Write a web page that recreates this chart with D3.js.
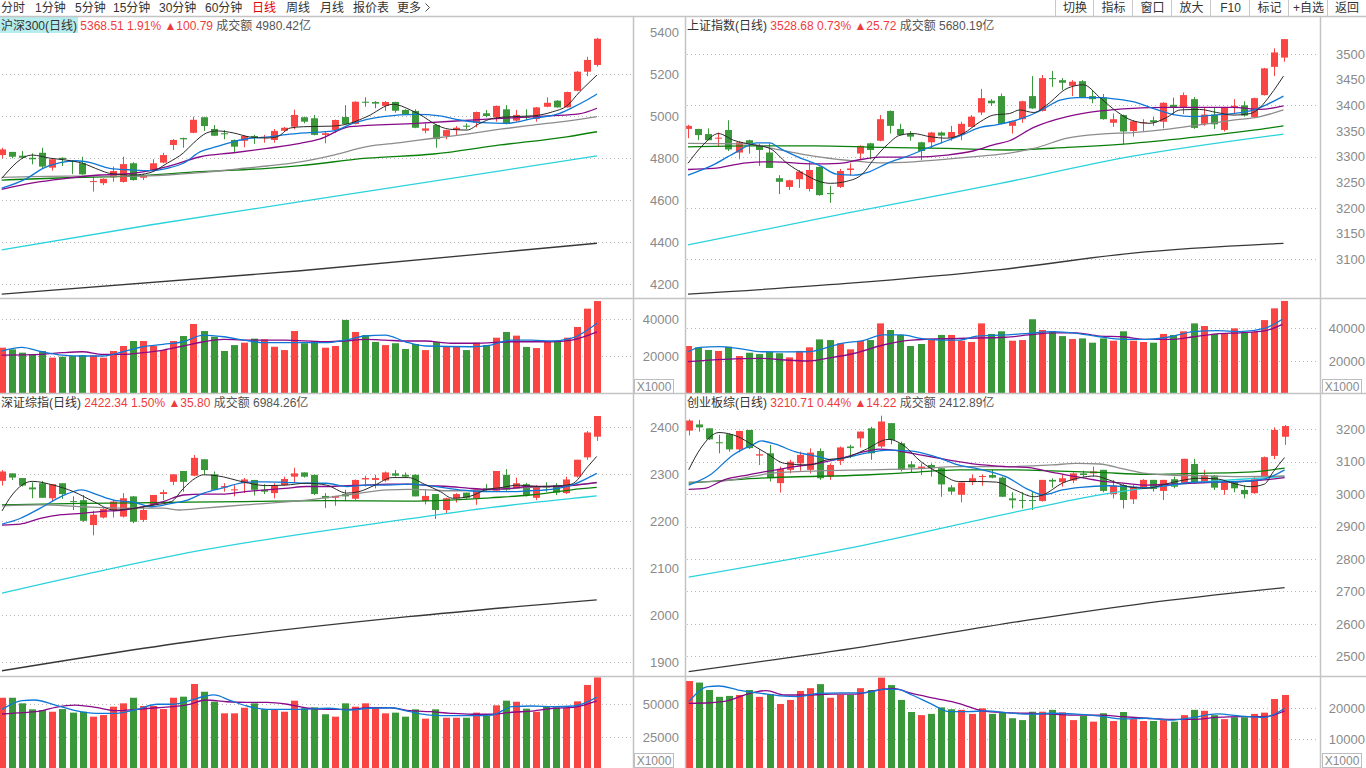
<!DOCTYPE html>
<html>
<head>
<meta charset="utf-8">
<title>日线 - 四窗口</title>
<script src="https://cdn.jsdelivr.net/npm/d3@7"></script>
<style>
body { margin: 0; background: #fff; }
svg { display: block; }
</style>
</head>
<body>
<script>
// ---------- 沪深300 ----------
var hs300_open = [4814,4829,4811,4801,4825,4754,4801,4787,4775,4687,4680,4708,4686,4775,4706,4743,4778,4862,4895,4920,4994,4938,4918,4886,4882,4905,4897,4886,4930,4949,4994,4989,4910,4933,4995,4962,5068,5067,5048,5067,5029,5024,4930,4957,4905,4933,4954,4968,5013,4994,5032,4978,4997,4986,5044,5073,5041,5120,5211,5243]
var hs300_close = [4841,4806,4801,4794,4759,4794,4794,4782,4722,4690,4701,4738,4771,4695,4719,4775,4814,4886,4889,4982,4952,4906,4913,4854,4905,4899,4901,4929,4944,5005,4973,4910,4918,4981,4962,5068,5063,5059,5067,5025,5008,4944,4941,4890,4933,4944,4949,5019,5000,5048,4962,5005,4992,5041,5063,5041,5114,5211,5267,5368]
var hs300_high = [4849,4829,4833,4822,4849,4796,4803,4790,4806,4711,4703,4759,4806,4780,4724,4794,4825,4890,4897,4997,4996,4957,4933,4888,4907,4910,4910,4938,4948,5030,4997,5005,4925,4983,5052,5070,5089,5071,5071,5068,5032,5032,4965,4960,4935,4952,4965,5021,5029,5050,5052,5029,5032,5043,5089,5076,5116,5214,5282,5372]
var hs300_low = [4799,4799,4799,4770,4749,4740,4762,4724,4720,4640,4671,4687,4683,4692,4695,4740,4775,4838,4849,4918,4929,4904,4889,4825,4851,4867,4873,4873,4925,4937,4965,4908,4870,4920,4960,4960,5044,5037,5024,5016,5005,4942,4918,4849,4889,4905,4937,4946,4994,4973,4960,4973,4981,4973,5042,5040,5040,5118,5190,5235]
var hs300_vol = [24500,23600,21800,20900,22700,19100,19600,20000,20400,20400,19100,22700,25400,28100,28100,25400,23200,28100,30800,37300,33500,30400,22700,25900,27200,29400,29000,25000,23200,33500,26900,28100,24500,25400,39500,33000,31300,27600,25900,26900,23800,26500,23200,27600,25000,25000,23200,27200,25900,29900,33000,31000,24900,24300,27700,28100,29900,35700,45600,49700]
var hs300_ma5 = [[0,4703],[3,4814],[4.8,4799],[6.4,4790],[8,4775],[9.7,4743],[10.7,4727],[13,4719],[14.7,4730],[16.4,4775],[18,4824],[19,4871],[20.3,4919],[21.3,4929],[23,4919],[24.6,4900],[26.3,4895],[27.3,4901],[28.6,4943],[29.9,4949],[32.8,4952],[34.5,4965],[36.2,4997],[38.8,5056],[40.5,5029],[41.8,4997],[42.8,4965],[44.4,4937],[46.1,4933],[47.4,4965],[48.7,4989],[50.7,4997],[52.7,5001],[54.6,5020],[56,5048],[57.3,5116],[58.3,5163],[59,5195]]
var hs300_ma10 = [[0,4656],[2.5,4703],[4.1,4751],[5.8,4778],[7.4,4787],[8.8,4778],[10.7,4751],[13,4743],[14.7,4740],[16.4,4751],[18,4775],[19.7,4830],[21.3,4854],[23,4878],[24.6,4894],[26.3,4899],[27.9,4910],[29.6,4918],[32.9,4929],[34.8,4965],[37.8,4997],[41.1,5008],[43.4,5001],[45.4,4981],[47.7,4968],[50,4965],[52.7,4989],[55.3,5013],[56.6,5041],[58,5076],[59,5105]]
var hs300_ma20 = [[0,4651],[3.1,4682],[6.4,4703],[9.7,4719],[13,4727],[16.4,4759],[19.7,4806],[23,4825],[26.3,4846],[29.6,4870],[31.5,4890],[34.5,4949],[41.1,4965],[47.7,4984],[54.3,5001],[57.2,5010],[59,5037]]
var hs300_ma30 = [[0,4708],[6.4,4714],[13,4714],[16.4,4719],[19.7,4730],[23,4746],[26.3,4762],[29.6,4782],[32.9,4814],[36.2,4854],[39.5,4873],[42.8,4894],[46.1,4914],[49.4,4937],[52.7,4957],[56,4976],[59,4997]]
var hs300_ma60 = [[0,4695],[6.4,4706],[13,4714],[19.7,4735],[26.3,4751],[29.6,4764],[36.2,4799],[42.8,4819],[49.4,4862],[56,4901],[59,4925]]
var hs300_ma120 = [[0,4362],[14.7,4481],[29.6,4592],[59,4810]]
var hs300_ma250 = [[0,4152],[29.6,4263],[59,4394]]
var hs300_vma5 = [[0,22700],[2,24700],[4,22300],[6,20500],[8,20000],[10,20000],[12,22300],[14,25000],[16,26300],[18,27700],[20,31300],[22,30400],[24,28600],[26,27200],[30,27200],[32,27200],[34,28600],[36,30800],[38,31300],[40,27700],[42,25400],[46.5,25000],[48.5,25900],[50.5,28600],[52.5,28600],[54.5,28100],[56.5,29600],[59,37700]]
var hs300_vma10 = [[0,20500],[4,20900],[6,21800],[8,22300],[10,20900],[12,20900],[14,21800],[16,23200],[18,25400],[20,27700],[22,29000],[24,28600],[28,28600],[32,27700],[34,28100],[36,29000],[38,28600],[40,28100],[42,28100],[44.5,26900],[46.5,26900],[48.5,27200],[50.5,27700],[54.5,27700],[56.5,28600],[59,33000]]
var hs300_ticks = [4200,4400,4600,4800,5000,5200,5400]
var hs300_grid = [4200,4400,4600,4800,5000,5200]
var hs300_vticks = [20000,40000]

// ---------- 上证指数 ----------
var sh_open = [3354,3354,3344,3335,3352,3308,3332,3321,3308,3258,3241,3256,3237,3280,3229,3241,3274,3306,3326,3331,3389,3354,3345,3328,3328,3347,3337,3343,3358,3386,3409,3418,3360,3373,3418,3389,3453,3449,3438,3447,3418,3415,3366,3381,3350,3365,3371,3368,3401,3396,3412,3364,3382,3352,3396,3400,3377,3420,3475,3493]
var sh_close = [3360,3342,3332,3337,3314,3328,3326,3313,3278,3251,3254,3271,3274,3225,3227,3272,3277,3321,3313,3373,3360,3342,3339,3311,3347,3341,3348,3364,3378,3414,3404,3364,3369,3408,3394,3453,3451,3444,3446,3416,3412,3373,3373,3349,3369,3367,3367,3405,3396,3420,3356,3382,3363,3396,3399,3380,3414,3472,3503,3529]
var sh_high = [3362,3354,3355,3347,3371,3330,3333,3325,3326,3264,3255,3274,3289,3281,3243,3276,3287,3322,3327,3381,3390,3364,3350,3329,3348,3349,3360,3368,3381,3432,3412,3423,3370,3409,3457,3459,3467,3453,3449,3449,3430,3422,3384,3382,3371,3373,3378,3406,3415,3425,3416,3396,3396,3397,3412,3408,3415,3473,3511,3529]
var sh_low = [3336,3332,3332,3319,3311,3295,3306,3282,3278,3227,3235,3239,3232,3224,3210,3239,3263,3293,3295,3330,3345,3341,3331,3293,3317,3326,3331,3332,3357,3381,3399,3363,3345,3366,3393,3388,3436,3430,3418,3415,3404,3372,3358,3324,3339,3349,3360,3355,3381,3383,3354,3360,3354,3349,3384,3378,3375,3419,3457,3485]
var sh_vol = [29100,28300,26700,26100,28700,23000,25000,24200,25500,24700,22200,26100,28300,33100,32700,30700,27100,32100,32700,42800,38800,35800,29100,30300,33100,35800,35800,32300,31500,42800,36400,38000,32300,32700,45300,38800,38000,35100,33300,33700,31100,33700,32300,38000,32300,31500,31100,36400,35800,38000,42800,41200,36400,36400,39800,37100,37600,44800,51900,56400]
var sh_ma5 = [[0,3287],[1.5,3323],[3,3345],[4.5,3332],[6.5,3323],[8.1,3316],[9.8,3287],[11.4,3267],[13.1,3251],[14.1,3248],[15.7,3252],[17.3,3267],[18.3,3293],[19.7,3323],[21,3342],[22.3,3345],[23.9,3339],[25.6,3336],[27.2,3345],[28.9,3368],[30.2,3381],[31.8,3384],[32.8,3391],[34.2,3386],[35.5,3401],[37.5,3433],[39.1,3440],[40.8,3414],[42.4,3388],[44,3370],[45.7,3365],[47.3,3376],[48.7,3391],[50.6,3392],[52.3,3386],[53.9,3381],[55.6,3384],[56.6,3396],[57.6,3420],[58.9,3457]]
var sh_ma10 = [[0,3264],[2.5,3284],[4.5,3306],[6.8,3327],[8.1,3327],[9.1,3316],[10.8,3300],[13.1,3282],[14.7,3266],[16.4,3264],[18,3271],[19.7,3287],[21.6,3300],[23.6,3316],[25.6,3331],[27.2,3343],[28.9,3357],[30.5,3362],[32.8,3373],[34.8,3389],[36.8,3410],[38.4,3415],[40.8,3415],[42.4,3412],[44,3407],[45.7,3396],[48,3382],[50,3378],[52,3381],[53.9,3384],[55.6,3389],[57.2,3401],[58.9,3418]]
var sh_ma20 = [[0,3275],[2.5,3277],[5.8,3288],[8.4,3290],[12.4,3286],[15,3287],[16.7,3293],[19,3299],[22.3,3299],[25.6,3303],[28.2,3311],[30.2,3323],[31.8,3331],[34.2,3357],[37.5,3378],[40.8,3389],[44,3394],[47.3,3396],[53.9,3396],[56.6,3392],[58.9,3399]]
var sh_ma30 = [[0,3326],[5.8,3325],[9.1,3313],[12.4,3301],[15.7,3293],[19,3288],[22.3,3290],[25.6,3295],[28.9,3301],[31.8,3307],[34.2,3316],[37.5,3336],[40.8,3344],[44,3347],[47.3,3353],[50.6,3362],[53.9,3371],[56.6,3378],[58.9,3391]]
var sh_ma60 = [[0,3319],[5.8,3321],[12.4,3321],[19,3318],[25.6,3316],[31.8,3313],[37.5,3318],[44,3326],[50.6,3339],[57.2,3355],[58.9,3360]]
var sh_ma120 = [[0,3128],[15.7,3190],[30.9,3248],[44,3301],[58.9,3344]]
var sh_ma250 = [[0,3032],[15.7,3053],[30.9,3080],[44,3112],[58.9,3131]]
var sh_vma5 = [[0,25600],[1.2,28300],[3.1,28700],[4.9,27700],[7.3,25600],[9.6,25500],[11.9,25600],[15.2,30700],[17.5,32700],[19.3,35800],[21.2,35800],[23,33700],[24.9,32700],[26.8,32700],[28.6,35100],[31.4,35800],[33.7,36800],[36.1,37800],[38.4,36800],[40.7,34700],[43,33100],[45.3,33100],[47.7,34700],[50,37800],[52.3,38400],[54.6,37800],[57,39800],[58.8,45300]]
var sh_vma10 = [[0,19600],[3.6,21000],[7.3,21600],[9.6,20600],[11.9,20000],[13.7,21600],[16.5,24700],[19.3,29700],[22.1,32700],[26.8,33700],[31.4,34400],[33.7,35800],[36.1,37100],[38.4,37100],[40.7,35100],[43,34700],[45.3,33100],[47.7,33100],[50,34700],[52.3,36400],[54.6,37100],[57,38200],[58.8,42200]]
var sh_ticks = [3100,3150,3200,3250,3300,3350,3400,3450,3500]
var sh_grid = [3100,3200,3300,3400,3500]
var sh_vticks = [20000,40000]

// ---------- 深证综指 ----------
var sz_open = [2286,2302,2292,2272,2281,2249,2281,2243,2245,2192,2208,2224,2210,2253,2203,2235,2258,2284,2307,2297,2332,2300,2272,2267,2281,2288,2267,2260,2277,2295,2304,2299,2254,2250,2258,2248,2289,2288,2287,2302,2299,2299,2243,2258,2224,2249,2261,2249,2270,2265,2299,2270,2279,2250,2275,2277,2260,2295,2336,2380]
var sz_close = [2306,2293,2276,2268,2250,2279,2258,2241,2201,2214,2226,2242,2249,2199,2224,2256,2262,2300,2284,2335,2309,2267,2275,2268,2289,2267,2263,2277,2290,2302,2295,2258,2249,2254,2253,2288,2292,2292,2304,2297,2295,2253,2254,2224,2249,2258,2250,2268,2267,2307,2267,2281,2256,2274,2272,2261,2289,2331,2389,2424]
var sz_high = [2309,2302,2292,2283,2286,2279,2281,2253,2256,2222,2228,2245,2260,2254,2231,2256,2267,2300,2307,2341,2332,2306,2281,2277,2292,2288,2279,2281,2295,2314,2304,2299,2260,2254,2267,2289,2297,2299,2306,2309,2304,2300,2267,2258,2250,2260,2261,2270,2279,2307,2311,2293,2282,2277,2283,2281,2295,2331,2392,2424]
var sz_low = [2276,2288,2274,2249,2250,2242,2248,2224,2199,2170,2206,2208,2208,2196,2199,2231,2245,2277,2263,2296,2299,2267,2263,2253,2260,2255,2258,2249,2276,2283,2293,2256,2228,2233,2243,2245,2274,2270,2284,2295,2293,2253,2236,2205,2217,2240,2248,2235,2263,2265,2265,2269,2253,2245,2263,2256,2258,2293,2331,2371]
var sz_vol = [54700,54700,50500,46000,45500,44200,46200,43500,44200,40500,41700,48000,50500,54700,48500,48500,46200,54700,55500,65000,59200,51700,43000,43000,47200,50500,46200,46000,44200,52500,46800,47500,42300,40500,50500,48000,50500,47500,43000,43500,40500,46000,39000,46000,39700,39700,39700,43500,41000,49000,52500,51700,46500,44200,48000,47500,47000,52000,64300,70000]
var sz_ma5 = [[0,2222],[1,2256],[3,2285],[5.1,2277],[7.1,2263],[9.1,2242],[11.1,2224],[13.2,2228],[15.2,2235],[16.8,2242],[18,2270],[19.2,2292],[20,2299],[21.3,2297],[24.1,2283],[26.1,2276],[28.1,2277],[30.2,2281],[32.2,2277],[34.2,2260],[35.4,2263],[37,2277],[38.7,2293],[40.3,2293],[41.9,2279],[43.5,2263],[44.7,2249],[46.4,2253],[48,2267],[49.6,2272],[51.2,2277],[53.2,2274],[54.9,2275],[56.5,2279],[58.1,2316],[59,2338]]
var sz_ma10 = [[0,2194],[1.8,2206],[3.8,2228],[5.9,2253],[7.9,2267],[9.5,2256],[11.1,2245],[13.2,2240],[14.8,2231],[16.8,2238],[18.4,2245],[20,2260],[22.1,2272],[24.1,2283],[26.1,2284],[28.1,2283],[30.2,2281],[32.2,2281],[34.2,2274],[36.2,2277],[38.3,2277],[40.3,2279],[42.3,2276],[44.3,2270],[46.4,2265],[48.4,2263],[50.4,2263],[52.4,2265],[54.5,2268],[56.5,2277],[58.1,2292],[59,2302]]
var sz_ma20 = [[0,2192],[1.8,2194],[3.8,2206],[5.9,2214],[7.9,2217],[9.9,2221],[12,2224],[14,2231],[16,2242],[18,2256],[20,2258],[22.1,2258],[24.1,2263],[26.1,2267],[28.1,2270],[30.2,2274],[32.2,2274],[34.2,2276],[36.2,2277],[38.3,2279],[40.3,2279],[42.3,2276],[44.3,2274],[46.4,2270],[48.4,2268],[50.4,2270],[52.4,2274],[54.5,2274],[56.5,2276],[59,2283]]
var sz_ma30 = [[0,2233],[3.8,2235],[7.9,2231],[12,2228],[16,2228],[17.6,2224],[20,2228],[24.1,2235],[30.2,2245],[34.2,2256],[38.3,2267],[40.3,2268],[42.3,2267],[44.3,2265],[48.4,2267],[52.4,2272],[56.5,2277],[59,2282]]
var sz_ma60 = [[0,2235],[7.9,2238],[16,2240],[24.1,2242],[32.2,2244],[40.3,2243],[44.3,2245],[48.4,2250],[52.4,2256],[56.5,2267],[59,2272]]
var sz_ma120 = [[0,2047],[20,2139],[40.3,2205],[48.4,2229],[59,2254]]
var sz_ma250 = [[0,1882],[20,1948],[40.3,1997],[59,2033]]
var sz_vma5 = [[0,46000],[2,52500],[3.2,53000],[5.3,49200],[7.3,45000],[9.3,43000],[11.3,43000],[13.4,46000],[15.4,49800],[17,49800],[18.6,52500],[20.2,56000],[21,56800],[22.7,52500],[24.3,48500],[26.3,46000],[28.3,46000],[30.4,46200],[32.4,46800],[34.4,45500],[36.4,46800],[38.5,47200],[40.5,44200],[42.5,41700],[44.5,41200],[46.6,41200],[48.6,41700],[50.6,48000],[52.6,48500],[54.7,48000],[56.7,48500],[59,55000]]
var sz_vma10 = [[0,42500],[2,43500],[4,45000],[5.3,47500],[7.3,49200],[9.3,47500],[11.3,45000],[13.4,46000],[15.4,47200],[17,48000],[18.6,49800],[20.2,53000],[22.3,51700],[24.3,51200],[26.3,51200],[28.3,49800],[30.4,46800],[32.4,46000],[34.4,46000],[36.4,47200],[38.5,47200],[40.5,45000],[42.5,44200],[44.5,43000],[46.6,42300],[48.6,42300],[50.6,43800],[52.6,44700],[54.7,46800],[56.7,47500],[59,52300]]
var sz_ticks = [1900,2000,2100,2200,2300,2400]
var sz_grid = [1900,2000,2100,2200,2300,2400]
var sz_vticks = [25000,50000]

// ---------- 创业板综 ----------
var cyb_open = [3196,3215,3203,3160,3185,3138,3198,3119,3126,3034,3075,3095,3075,3133,3054,3102,3147,3172,3203,3147,3219,3157,3092,3080,3090,3080,3021,2998,3037,3054,3059,3051,2987,2982,2982,2979,3044,3037,3042,3064,3064,3075,3000,3028,2984,3020,3044,3010,3046,3034,3093,3037,3057,3013,3039,3013,3003,3056,3118,3177]
var cyb_close = [3227,3206,3169,3157,3138,3195,3142,3123,3049,3078,3100,3121,3128,3049,3090,3144,3142,3193,3126,3224,3167,3075,3082,3085,3080,3030,3008,3036,3049,3056,3051,2992,2981,2980,2980,3044,3039,3049,3064,3059,3070,3010,3026,2982,3023,3044,3016,3044,3023,3109,3034,3059,3020,3039,3018,3000,3046,3114,3198,3210]
var cyb_high = [3231,3229,3203,3183,3188,3195,3198,3139,3152,3085,3106,3131,3141,3141,3095,3147,3152,3193,3208,3242,3219,3162,3102,3095,3095,3080,3028,3036,3061,3061,3075,3054,3006,3006,3006,3044,3049,3061,3067,3072,3085,3075,3044,3031,3028,3046,3044,3044,3054,3109,3109,3075,3059,3044,3041,3028,3056,3116,3206,3213]
var cyb_low = [3181,3193,3167,3126,3131,3129,3139,3090,3039,3005,3064,3072,3064,3044,3044,3090,3111,3144,3106,3142,3154,3070,3068,3059,3054,2992,2998,2975,3028,3026,3049,2992,2956,2956,2951,2977,3020,3023,3034,3054,3054,3006,2987,2956,2970,3016,3008,2982,3018,3031,3031,3034,3013,2998,3006,2987,3001,3054,3108,3152]
var cyb_vol = [28700,28200,25800,23600,23900,24200,25800,23600,24500,21300,22600,25500,26400,27700,23300,24200,24200,26400,25800,29800,27400,22600,18700,17700,18100,20200,19600,19400,18100,19900,18100,18500,16700,16100,18800,18800,19400,18600,16100,17400,15600,18300,15800,18700,16400,15800,15800,16100,15600,17700,19400,19100,17700,16400,17000,17000,18100,18500,22900,24200]
var cyb_ma5 = [[0,3075],[1.2,3142],[3,3190],[4.9,3177],[6.3,3152],[7.7,3126],[9.5,3095],[11.9,3090],[13.7,3106],[15.6,3113],[17.4,3136],[19.8,3169],[21.2,3152],[23,3100],[24.9,3064],[26.7,3039],[28.6,3039],[30.5,3037],[32.3,3013],[34.2,2992],[35.1,2998],[37,3034],[38.8,3051],[40.2,3056],[41.6,3044],[43.5,3023],[45.3,3018],[47.2,3031],[48.6,3041],[50.5,3049],[52.3,3047],[54.2,3031],[55.6,3023],[57,3031],[57.9,3070],[59,3113]]
var cyb_ma10 = [[0,3028],[2.1,3059],[4.4,3121],[6.3,3152],[7.2,3164],[8.6,3154],[10.5,3131],[12.8,3116],[14.2,3106],[16,3116],[17.4,3126],[19.8,3136],[22.1,3133],[24.4,3116],[26.7,3090],[29.1,3075],[31.4,3054],[33.7,3013],[35.1,2998],[37,3013],[38.8,3021],[41.6,3026],[43.5,3023],[45.3,3020],[47.7,3028],[50,3037],[52.3,3037],[54.7,3039],[57,3047],[59,3075]]
var cyb_ma20 = [[0,3015],[1.6,3018],[3.5,3044],[5.8,3059],[8.1,3072],[10.5,3085],[12.8,3095],[15.1,3111],[17.4,3131],[18.8,3139],[20.2,3136],[22.1,3126],[24.4,3113],[26.7,3100],[29.1,3090],[31.4,3085],[33.7,3082],[36,3067],[38.4,3054],[40.7,3041],[43,3034],[45.3,3028],[47.7,3031],[50,3034],[52.3,3037],[54.7,3039],[57,3044],[59,3051]]
var cyb_ma30 = [[0,3037],[3.5,3041],[8.1,3064],[12.8,3072],[17.4,3075],[22.1,3078],[26.7,3085],[31.4,3085],[36,3090],[38.4,3095],[40.7,3093],[43,3078],[45.3,3064],[47.7,3059],[50,3057],[54.7,3054],[59,3056]]
var cyb_ma60 = [[0,3034],[8.1,3051],[17.4,3059],[22.1,3067],[26.7,3075],[31.4,3075],[36,3072],[40.7,3067],[45.3,3061],[50,3064],[54.7,3067],[57,3072],[59,3080]]
var cyb_ma120 = [[0,2744],[17.4,2843],[33.7,2954],[40.7,2998],[47.7,3028],[54.7,3046],[59,3054]]
var cyb_ma250 = [[0,2453],[17.4,2530],[33.7,2612],[45.3,2664],[59,2712]]
var cyb_vma5 = [[0,22000],[1.9,26900],[3,27100],[4.9,25800],[7.2,24700],[9.1,23900],[10.9,23700],[12.8,24700],[15.1,24900],[17.4,24900],[19.3,26000],[20.7,26000],[22.1,24200],[23.9,21500],[25.8,18800],[27.7,18800],[29.5,19100],[31.4,18500],[33.7,18000],[36,18300],[38.4,18000],[40.7,17400],[43,16500],[45.3,16700],[47.7,16100],[50,17000],[52.3,18100],[54.7,17400],[57,17000],[59,19900]]
var cyb_vma10 = [[0,21500],[2.1,21700],[3.9,22400],[5.8,24500],[7.7,25600],[9.5,24200],[11.9,24200],[14.2,24500],[16.5,24500],[18.4,25600],[20.2,26300],[22.1,24700],[24.4,23100],[26.7,21500],[29.1,19100],[31.4,18500],[33.7,18300],[36,18000],[38.4,17700],[40.7,17700],[43,17200],[45.3,16700],[47.7,16300],[50,16300],[52.3,17000],[54.7,17200],[57,17200],[59,19100]]
var cyb_ticks = [2500,2600,2700,2800,2900,3000,3100,3200]
var cyb_grid = [2500,2600,2700,2800,2900,3000,3100,3200]
var cyb_vticks = [10000,20000]

// toolbar labels
var menuLeft = ['分时','1分钟','5分钟','15分钟','30分钟','60分钟','日线','周线','月线','报价表','更多']
var menuRight = ['切换','指标','窗口','放大','F10','标记','+自选','返回']

var FONT = '"Liberation Sans", Arial, "Noto Sans CJK SC", sans-serif'
var UP = '#fa4545', DOWN = '#3a983a'
var MA_COLORS = ['#2a2a2a', '#0f78d6', '#880a88', '#8c8c8c', '#0a800a', '#2ad2dc', '#383838']
var GRID = '#b8b8b8', BORDER = '#c4c4c4'

var svg = d3.select('body').append('svg')
  .attr('width', 1366).attr('height', 768)
  .attr('font-family', FONT)
svg.append('rect').attr('width', 1366).attr('height', 768).attr('fill', '#fff')

// ---------- toolbar ----------
var menuX = [1, 35, 75, 113, 159, 205, 252, 286, 320, 353, 397]
svg.append('g').selectAll('text').data(menuLeft).enter().append('text')
  .attr('x', function(d, i) { return menuX[i] })
  .attr('y', 12)
  .attr('font-size', 12)
  .attr('fill', function(d) { return d == '日线' ? '#e80000' : '#333' })
  .text(function(d) { return d })
svg.append('path').attr('d', 'M425.5,3.5 L429.5,7.5 L425.5,11.5')
  .attr('fill', 'none').attr('stroke', '#555')

var btnX = [1056, 1094, 1133, 1172, 1211, 1250, 1289, 1328]
var btn = svg.append('g')
btn.selectAll('line').data(btnX).enter().append('line')
  .attr('x1', function(d) { return d - 0.5 }).attr('x2', function(d) { return d - 0.5 })
  .attr('y1', 0).attr('y2', 16).attr('stroke', '#c8c8c8')
btn.selectAll('text').data(menuRight).enter().append('text')
  .attr('x', function(d, i) { return (btnX[i] + (btnX[i + 1] || 1366)) / 2 })
  .attr('y', 12).attr('text-anchor', 'middle')
  .attr('font-size', 12).attr('fill', '#333')
  .text(function(d) { return d })

// ---------- panels ----------
var panels = [
  { id: 'hs', name: '沪深300(日线)', last: '5368.51', pct: '1.91%', chg: '▲100.79', amt: '4980.42亿', hl: true,
    left: 0, right: 633, axisX: 679, titleX: 1, top: 17, mid: 298, bot: 393,
    x0: 1.7, step: 10.09, pDom: [4200, 5200], pRng: [284, 74], vDom: [0, 40000], vRng: [393, 319],
    ticks: hs300_ticks, grid: hs300_grid, vticks: hs300_vticks, box: [634, 379],
    o: hs300_open, c: hs300_close, h: hs300_high, l: hs300_low, v: hs300_vol,
    mas: [hs300_ma5, hs300_ma10, hs300_ma20, hs300_ma30, hs300_ma60, hs300_ma120, hs300_ma250],
    vmas: [hs300_vma5, hs300_vma10] },
  { id: 'sh', name: '上证指数(日线)', last: '3528.68', pct: '0.73%', chg: '▲25.72', amt: '5680.19亿',
    left: 685, right: 1320, axisX: 1365, titleX: 687, top: 17, mid: 298, bot: 393,
    x0: 688, step: 10.11, pDom: [3100, 3500], pRng: [259.3, 54], vDom: [0, 40000], vRng: [394, 328],
    ticks: sh_ticks, grid: sh_grid, vticks: sh_vticks, box: [1322, 379],
    o: sh_open, c: sh_close, h: sh_high, l: sh_low, v: sh_vol,
    mas: [sh_ma5, sh_ma10, sh_ma20, sh_ma30, sh_ma60, sh_ma120, sh_ma250],
    vmas: [sh_vma5, sh_vma10] },
  { id: 'sz', name: '深证综指(日线)', last: '2422.34', pct: '1.50%', chg: '▲35.80', amt: '6984.26亿',
    left: 0, right: 633, axisX: 679, titleX: 1, top: 394, mid: 676, bot: 768,
    x0: 2, step: 10.08, pDom: [1900, 2400], pRng: [662.3, 427.3], vDom: [0, 50000], vRng: [770.6, 704],
    ticks: sz_ticks, grid: sz_grid, vticks: sz_vticks, box: [634, 753],
    o: sz_open, c: sz_close, h: sz_high, l: sz_low, v: sz_vol,
    mas: [sz_ma5, sz_ma10, sz_ma20, sz_ma30, sz_ma60, sz_ma120, sz_ma250],
    vmas: [sz_vma5, sz_vma10] },
  { id: 'cy', name: '创业板综(日线)', last: '3210.71', pct: '0.44%', chg: '▲14.22', amt: '2412.89亿',
    left: 685, right: 1320, axisX: 1365, titleX: 687, top: 394, mid: 676, bot: 768,
    x0: 688.7, step: 10.1, pDom: [2500, 3200], pRng: [656.3, 429.3], vDom: [0, 20000], vRng: [770, 708],
    ticks: cyb_ticks, grid: cyb_grid, vticks: cyb_vticks, box: [1322, 753],
    o: cyb_open, c: cyb_close, h: cyb_high, l: cyb_low, v: cyb_vol,
    mas: [cyb_ma5, cyb_ma10, cyb_ma20, cyb_ma30, cyb_ma60, cyb_ma120, cyb_ma250],
    vmas: [cyb_vma5, cyb_vma10] }
]

function crisp(v) { return Math.round(v) + 0.5 }

function drawPanel(p) {
  var n = p.o.length
  var idx = d3.range(n)
  var x = d3.scaleLinear().domain([0, n - 1]).range([p.x0, p.x0 + (n - 1) * p.step])
  var y = d3.scaleLinear().domain(p.pDom).range(p.pRng)
  var yv = d3.scaleLinear().domain(p.vDom).range(p.vRng)
  var color = function(i) { return p.c[i] >= p.o[i] ? UP : DOWN }

  var defs = svg.append('defs')
  defs.append('clipPath').attr('id', 'pc' + p.id).append('rect')
    .attr('x', p.left).attr('y', p.top + 1).attr('width', p.right - p.left).attr('height', p.mid - p.top - 1)
  defs.append('clipPath').attr('id', 'vc' + p.id).append('rect')
    .attr('x', p.left).attr('y', p.mid + 1).attr('width', p.right - p.left).attr('height', p.bot - p.mid - 1)

  // grid lines
  var g = svg.append('g')
  g.selectAll('line.pg').data(p.grid).enter().append('line')
    .attr('x1', p.left + 2).attr('x2', p.right - 1)
    .attr('y1', function(d) { return crisp(y(d)) }).attr('y2', function(d) { return crisp(y(d)) })
    .attr('stroke', GRID).attr('stroke-dasharray', '1,3')
  g.selectAll('line.vg').data(p.vticks).enter().append('line')
    .attr('x1', p.left + 2).attr('x2', p.right - 1)
    .attr('y1', function(d) { return crisp(yv(d)) }).attr('y2', function(d) { return crisp(yv(d)) })
    .attr('stroke', GRID).attr('stroke-dasharray', '1,3')

  // axes
  var ax = svg.append('g').attr('transform', 'translate(' + p.axisX + ',0)')
    .call(d3.axisLeft(y).tickValues(p.ticks).tickSize(0).tickPadding(0).tickFormat(d3.format('d')))
  var vax = svg.append('g').attr('transform', 'translate(' + p.axisX + ',0)')
    .call(d3.axisLeft(yv).tickValues(p.vticks).tickSize(0).tickPadding(0).tickFormat(d3.format('d')))
  ;[ax, vax].forEach(function(a) {
    a.select('.domain').remove()
    a.attr('font-family', FONT).attr('font-size', 13)
    a.selectAll('text').attr('fill', '#8a8a8a')
  })

  // candles
  var cg = svg.append('g').attr('clip-path', 'url(#pc' + p.id + ')')
  cg.selectAll('line.w').data(idx).enter().append('line')
    .attr('x1', function(i) { return crisp(x(i)) }).attr('x2', function(i) { return crisp(x(i)) })
    .attr('y1', function(i) { return y(p.h[i]) }).attr('y2', function(i) { return y(p.l[i]) })
    .attr('stroke', color)
  cg.selectAll('rect.b').data(idx).enter().append('rect')
    .attr('x', function(i) { return Math.round(x(i)) - 3 }).attr('width', 7)
    .attr('y', function(i) { return y(Math.max(p.o[i], p.c[i])) })
    .attr('height', function(i) { return Math.max(1, Math.abs(y(p.o[i]) - y(p.c[i]))) })
    .attr('fill', color)

  var line = d3.line().x(function(d) { return x(d[0]) }).y(function(d) { return y(d[1]) }).curve(d3.curveMonotoneX)
  for (var k = p.mas.length - 1; k >= 0; k--) {
    cg.append('path').attr('d', line(p.mas[k])).attr('fill', 'none')
      .attr('stroke', MA_COLORS[k]).attr('stroke-width', k == 0 ? 1 : 1.3)
  }

  // volume
  var vg = svg.append('g').attr('clip-path', 'url(#vc' + p.id + ')')
  vg.selectAll('rect').data(idx).enter().append('rect')
    .attr('x', function(i) { return Math.round(x(i)) - 3 }).attr('width', 7)
    .attr('y', function(i) { return yv(p.v[i]) })
    .attr('height', function(i) { return p.bot + 4 - yv(p.v[i]) })
    .attr('fill', color)
  var vline = d3.line().x(function(d) { return x(d[0]) }).y(function(d) { return yv(d[1]) }).curve(d3.curveMonotoneX)
  vg.append('path').attr('d', vline(p.vmas[1])).attr('fill', 'none').attr('stroke', MA_COLORS[2]).attr('stroke-width', 1.3)
  vg.append('path').attr('d', vline(p.vmas[0])).attr('fill', 'none').attr('stroke', MA_COLORS[1]).attr('stroke-width', 1.3)

  // X1000 box
  svg.append('rect').attr('x', p.box[0] + 0.5).attr('y', p.box[1] + 0.5).attr('width', 39).attr('height', 14)
    .attr('fill', '#fff').attr('stroke', '#bdbdbd')
  svg.append('text').attr('x', p.box[0] + 20).attr('y', p.box[1] + 12).attr('text-anchor', 'middle')
    .attr('font-size', 12).attr('fill', '#8a8a8a').text('X1000')

  // title
  var ty = p.top + 13
  if (p.hl) {
    svg.append('rect').attr('x', p.left).attr('y', p.top).attr('width', 78).attr('height', 16).attr('fill', '#b6ecec')
  }
  var t = svg.append('text').attr('x', p.titleX).attr('y', ty).attr('font-size', 12)
  t.append('tspan').attr('fill', '#333').text(p.name)
  t.append('tspan').attr('fill', '#ee3c3c').text(' ' + p.last + ' ' + p.pct + ' ' + p.chg)
  t.append('tspan').attr('fill', '#555').text(' 成交额 ' + p.amt)
}

panels.forEach(drawPanel)

// ---------- borders ----------
var b = svg.append('g').attr('stroke', BORDER)
b.append('line').attr('x1', 0).attr('x2', 1366).attr('y1', 16.5).attr('y2', 16.5).attr('stroke-width', 1.5)
;[298.5, 393.5, 676.5].forEach(function(yy) {
  b.append('line').attr('x1', 0).attr('x2', 1366).attr('y1', yy).attr('y2', yy).attr('stroke-width', 1.5)
})
;[633.5, 685.5, 1320.5].forEach(function(xx) {
  b.append('line').attr('x1', xx).attr('x2', xx).attr('y1', 17).attr('y2', 768).attr('stroke-width', 1.5)
})
</script>
</body>
</html>
